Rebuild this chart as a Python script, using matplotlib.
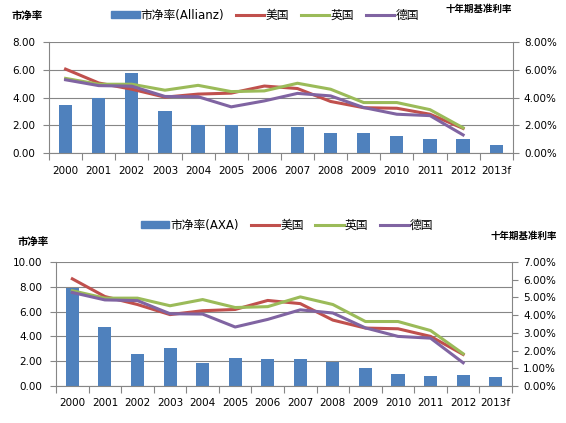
import matplotlib.pyplot as plt
import numpy as np
from matplotlib.patches import Patch
from matplotlib.lines import Line2D
from matplotlib.ticker import FuncFormatter

plt.rcParams['font.family'] = ['DejaVu Sans', 'Noto Sans CJK SC']

years = ['2000', '2001', '2002', '2003', '2004', '2005', '2006', '2007',
         '2008', '2009', '2010', '2011', '2012', '2013f']
allianz_pb = [3.5, 3.95, 5.8, 3.0, 2.0, 2.0, 1.8, 1.9, 1.45, 1.45, 1.25, 1.0, 1.0, 0.6]
axa_pb = [7.9, 4.75, 2.6, 3.05, 1.85, 2.25, 2.2, 2.15, 1.95, 1.43, 0.95, 0.81, 0.86, 0.7]
# 10y yields (%), 2000-2012
us = [6.05, 5.05, 4.6, 4.03, 4.25, 4.32, 4.83, 4.65, 3.72, 3.27, 3.23, 2.8, 1.78]
uk = [5.38, 4.96, 4.96, 4.53, 4.88, 4.43, 4.48, 5.03, 4.6, 3.64, 3.64, 3.13, 1.82]
de = [5.28, 4.86, 4.82, 4.08, 4.06, 3.33, 3.76, 4.3, 4.12, 3.28, 2.8, 2.7, 1.31]

BLUE = '#4F81BD'
RED = '#C0504D'
GREEN = '#9BBB59'
PURPLE = '#8064A2'
GRAY = '#868686'

fig = plt.figure(figsize=(5.66, 4.23), dpi=100)


def panel(rect, bars, bar_name, lmax, lstep, rmax, rstep):
    ax = fig.add_axes(rect)
    x = np.arange(len(years))
    ax.bar(x, bars, width=0.4, color=BLUE, zorder=2)
    ax.set_xlim(-0.5, len(years) - 0.5)
    ax.set_ylim(0, lmax)
    ax.set_yticks(np.arange(0, lmax + 0.01, lstep))
    ax.yaxis.set_major_formatter(FuncFormatter(lambda v, p: f'{v:.2f}'))
    ax.grid(axis='y', color=GRAY, linewidth=0.8, zorder=0)
    ax.set_xticks(x)
    ax.set_xticklabels(years)
    ax.set_xticks(np.arange(-0.5, len(years)), minor=True)
    ax.tick_params(axis='x', which='major', length=0, pad=9, labelsize=7.5)
    ax.tick_params(axis='x', which='minor', length=5, color=GRAY, width=0.8)
    ax.tick_params(axis='y', length=4, color=GRAY, width=0.8, labelsize=7.5, pad=6)
    for s in ['top', 'right']:
        ax.spines[s].set_visible(False)
    for s in ['left', 'bottom']:
        ax.spines[s].set_color(GRAY)
        ax.spines[s].set_linewidth(0.8)

    ax2 = ax.twinx()
    yx = np.arange(len(us))
    ax2.plot(yx, us, color=RED, lw=2.2)
    ax2.plot(yx, uk, color=GREEN, lw=2.2)
    ax2.plot(yx, de, color=PURPLE, lw=2.2)
    ax2.set_ylim(0, rmax)
    ax2.set_yticks(np.arange(0, rmax + 0.01, rstep))
    ax2.yaxis.set_major_formatter(FuncFormatter(lambda v, p: f'{v:.2f}%'))
    ax2.tick_params(axis='y', length=4, color=GRAY, width=0.8, labelsize=7.5, pad=4)
    for s in ['top', 'left', 'bottom']:
        ax2.spines[s].set_visible(False)
    ax2.spines['right'].set_color(GRAY)
    ax2.spines['right'].set_linewidth(0.8)

    handles = [Patch(color=BLUE), Line2D([], [], color=RED, lw=2.2),
               Line2D([], [], color=GREEN, lw=2.2), Line2D([], [], color=PURPLE, lw=2.2)]
    labels = [bar_name, '美国', '英国', '德国']
    return ax, handles, labels


ax1, h, l = panel([0.0866, 0.638, 0.8194, 0.2627], allianz_pb, '市净率(Allianz)', 8, 2, 8, 2)
fig.legend(h, l, loc='center', bbox_to_anchor=(265 / 566, 1 - 15 / 423), ncol=4,
           frameon=False, fontsize=8.5, handlelength=2.4, handleheight=0.6,
           columnspacing=1.0, handletextpad=0.1)
fig.text(12 / 566, 1 - 16 / 423, '市净率', fontsize=7.5, fontweight='bold', va='center')
fig.text(512 / 566, 1 - 9 / 423, '十年期基准利率', fontsize=6.8, fontweight='bold',
         va='center', ha='right')

ax3, h, l = panel([0.099, 0.0875, 0.8056, 0.2931], axa_pb, '市净率(AXA)', 10, 2, 7, 1)
fig.legend(h, l, loc='center', bbox_to_anchor=(287 / 566, 1 - 225 / 423), ncol=4,
           frameon=False, fontsize=8.5, handlelength=2.4, handleheight=0.6,
           columnspacing=1.0, handletextpad=0.1)
fig.text(18 / 566, 1 - 242 / 423, '市净率', fontsize=7.5, fontweight='bold', va='center')
fig.text(557 / 566, 1 - 236 / 423, '十年期基准利率', fontsize=6.8, fontweight='bold',
         va='center', ha='right')

fig.savefig('out.png', dpi=100)
